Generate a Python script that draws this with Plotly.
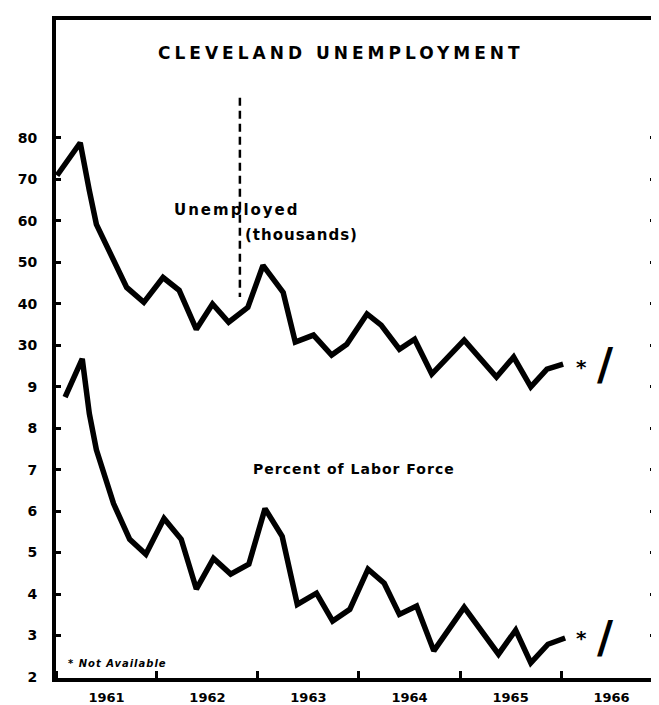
import datetime as dt
import plotly.graph_objects as go

# ---- data (decimal years, values) ----
unemp_x = [1961.01, 1961.24, 1961.33, 1961.40, 1961.70, 1961.87, 1962.06, 1962.22,
           1962.39, 1962.55, 1962.71, 1962.90, 1963.05, 1963.25, 1963.37, 1963.55,
           1963.73, 1963.88, 1964.08, 1964.22, 1964.40, 1964.55, 1964.72, 1965.04,
           1965.36, 1965.53, 1965.70, 1965.86, 1966.02]
unemp_thousands = [70.9, 78.8, 67.3, 59.1, 43.9, 40.3, 46.3, 43.2,
                   33.8, 39.9, 35.5, 39.1, 49.2, 42.7, 30.7, 32.4,
                   27.6, 30.2, 37.5, 34.8, 29.0, 31.4, 23.0, 31.2,
                   22.3, 27.1, 19.9, 24.2, 25.4]

pct_x = [1961.09, 1961.26, 1961.33, 1961.40, 1961.57, 1961.73, 1961.89, 1962.07,
         1962.24, 1962.39, 1962.56, 1962.73, 1962.91, 1963.07, 1963.24, 1963.39,
         1963.58, 1963.74, 1963.91, 1964.09, 1964.25, 1964.40, 1964.57, 1964.74,
         1965.04, 1965.38, 1965.55, 1965.70, 1965.87, 1966.04]
pct_labor_force = [8.75, 9.67, 8.35, 7.48, 6.18, 5.32, 4.96, 5.82,
                   5.32, 4.12, 4.86, 4.48, 4.72, 6.06, 5.39, 3.75,
                   4.02, 3.35, 3.63, 4.60, 4.26, 3.51, 3.71, 2.63,
                   3.68, 2.55, 3.13, 2.34, 2.79, 2.94]

upper_ticks = [30, 40, 50, 60, 70, 80]
lower_ticks = [2, 3, 4, 5, 6, 7, 8, 9]


def to_date(y):
    yr = int(y)
    start = dt.datetime(yr, 1, 1)
    end = dt.datetime(yr + 1, 1, 1)
    return (start + (end - start) * (y - yr)).strftime("%Y-%m-%d %H:%M")


FONT = "DejaVu Sans"
INK = "#000000"
XRANGE = [to_date(1961.0), to_date(1966.93)]

fig = go.Figure()
fig.add_trace(go.Scatter(x=[to_date(v) for v in unemp_x], y=unemp_thousands, mode="lines",
                         yaxis="y2", line=dict(color=INK, width=5.5),
                         showlegend=False, hoverinfo="skip"))
fig.add_trace(go.Scatter(x=[to_date(v) for v in pct_x], y=pct_labor_force, mode="lines",
                         yaxis="y", line=dict(color=INK, width=5.5),
                         showlegend=False, hoverinfo="skip"))

tickfont = dict(family=FONT, size=14, color=INK, weight="bold")

fig.update_layout(
    width=659, height=705,
    margin=dict(l=48, r=8, t=12, b=33),
    paper_bgcolor="white", plot_bgcolor="white",
    showlegend=False,
    xaxis=dict(type="date", range=XRANGE, showgrid=False, zeroline=False,
               showline=True, linewidth=4, linecolor=INK, mirror=True,
               tick0="1961-01-01", dtick="M12", tickformat="%Y",
               ticklabelmode="period", ticks="inside", ticklen=7, tickwidth=2.5,
               tickcolor=INK,
               tickfont=dict(family=FONT, size=13, color=INK, weight="bold"),
               ticklabelstandoff=4),
    yaxis=dict(range=[1.976, 17.84], showgrid=False, zeroline=False,
               showline=True, linewidth=4, linecolor=INK, mirror="ticks",
               tickvals=lower_ticks, ticks="inside", ticklen=5, tickwidth=2.5,
               tickcolor=INK, tickfont=tickfont, ticklabelstandoff=12),
    yaxis2=dict(range=[-50.3, 108.4], overlaying="y", side="left", anchor="x",
                showgrid=False, zeroline=False,
                showline=True, linewidth=4, linecolor=INK, mirror="ticks",
                tickvals=upper_ticks, ticks="inside", ticklen=5, tickwidth=2.5,
                tickcolor=INK, tickfont=tickfont, ticklabelstandoff=12),
)


def txt(text, x, y, size, xanchor="left", spacing=2, italic=False):
    t = f'<span style="letter-spacing:{spacing}px">{text}</span>'
    if italic:
        t = "<i>" + t + "</i>"
    fig.add_annotation(text=t, x=x, y=y, xref="paper", yref="paper", xanchor=xanchor,
                       yanchor="middle", showarrow=False,
                       font=dict(family=FONT, size=size, color=INK, weight="bold"))


txt("CLEVELAND UNEMPLOYMENT", 0.475, 0.95, 17, xanchor="center", spacing=4)
txt("Unemployed", 0.194, 0.712, 15, spacing=2)
txt("(thousands)", 0.312, 0.674, 15, spacing=1)
txt("Percent of Labor Force", 0.4975, 0.318, 14, xanchor="center", spacing=1)
txt("* Not Available", 0.0166, 0.0227, 10, spacing=1, italic=True)

# "not available" markers after the last readings
for yref, yv in (("y2", 24.7), ("y", 2.94)):
    fig.add_annotation(text="*", x=to_date(1966.2), y=yv, xref="x", yref=yref,
                       showarrow=False, yanchor="middle",
                       font=dict(family=FONT, size=20, color=INK, weight="bold"))
for yref, yv in (("y2", 25.4), ("y", 2.95)):
    fig.add_annotation(text="/", x=to_date(1966.44), y=yv, xref="x", yref=yref,
                       showarrow=False, yanchor="middle",
                       font=dict(family=FONT, size=44, color=INK, weight="bold"))

# dashed vertical guide line
fig.add_shape(type="line", xref="paper", yref="paper", x0=0.307, x1=0.307, y0=0.882, y1=0.579,
              line=dict(color=INK, width=2.5, dash="8px,5px"))

fig.write_html("out.html")
